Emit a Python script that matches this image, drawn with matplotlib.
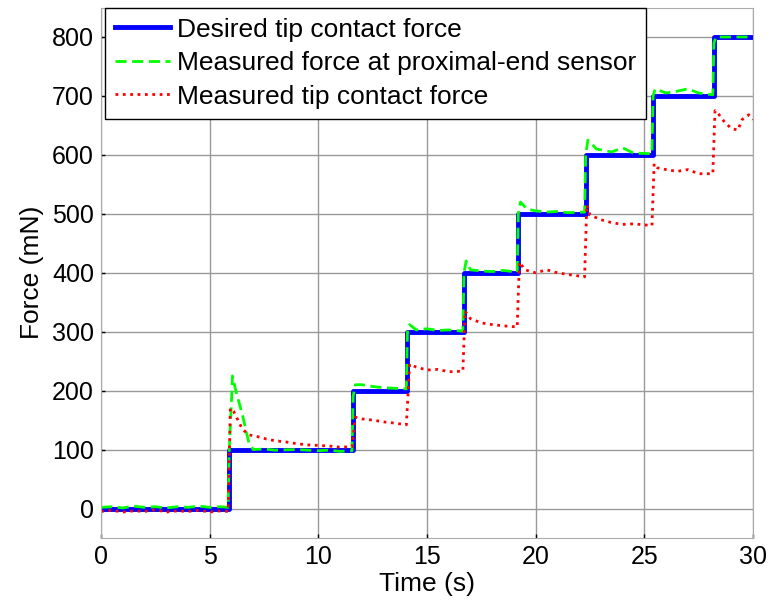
import matplotlib.pyplot as plt

plt.rcParams['font.family'] = ['Liberation Sans', 'DejaVu Sans']

# desired step profile
t_desired = [0, 5.9, 11.6, 14.1, 16.7, 19.2, 22.3, 25.4, 28.2, 30]
f_desired = [0, 100, 200, 300, 400, 500, 600, 700, 800, 800]

# measured force at proximal-end sensor
t_prox = [0, 0.5, 1, 1.5, 2, 2.5, 3, 3.5, 4, 4.5, 5, 5.5, 5.85,
          5.9, 6.0, 6.05, 6.2, 6.5, 6.8, 7.0, 7.5, 8, 9, 10, 10.5, 11, 11.55,
          11.6, 11.7, 12, 12.5, 13, 13.5, 14.05,
          14.1, 14.2, 14.5, 15, 15.5, 16, 16.65,
          16.7, 16.8, 17, 17.5, 18, 18.5, 19.15,
          19.2, 19.3, 19.6, 20, 20.5, 21, 21.5, 22.25,
          22.3, 22.4, 22.8, 23.5, 24, 24.5, 25.35,
          25.4, 25.5, 26, 26.5, 27, 27.5, 28.15,
          28.2, 28.3, 29, 30]
f_prox = [2, 3, 1, 4, 2, 3, 1, 3, 2, 4, 2, 3, 2,
          100, 180, 225, 200, 160, 112, 100, 101, 99, 100, 98, 99, 97, 98,
          190, 210, 210, 207, 205, 204, 203,
          300, 312, 303, 305, 302, 303, 301,
          400, 420, 405, 403, 402, 404, 401,
          500, 520, 508, 505, 503, 504, 502, 503,
          600, 625, 610, 605, 612, 603, 602,
          700, 712, 705, 708, 712, 705, 702,
          790, 800, 800, 800]

# measured tip contact force
t_tip = [0, 0.5, 1, 1.5, 2, 2.5, 3, 3.5, 4, 4.5, 5, 5.5, 5.85,
         5.95, 6.1, 6.3, 6.5, 6.8, 7.2, 7.6, 8, 8.5, 9, 9.5, 10, 10.5, 11, 11.55,
         11.7, 12, 12.5, 13, 13.5, 14.05,
         14.2, 14.5, 15, 15.5, 16, 16.65,
         16.75, 17, 17.5, 18, 18.5, 19.15,
         19.25, 19.5, 20, 20.5, 21, 21.5, 22.25,
         22.35, 22.5, 23, 23.5, 24, 24.5, 25.35,
         25.45, 25.6, 26, 26.5, 27, 27.5, 28.15,
         28.25, 28.4, 28.7, 29, 29.3, 29.5, 29.8, 30]
f_tip = [-5, -3, -6, -4, -5, -2, -6, -4, -5, -3, -6, -4, -5,
         170, 165, 150, 135, 125, 122, 118, 115, 113, 110, 108, 107, 106, 104, 105,
         155, 152, 150, 147, 145, 142,
         245, 240, 235, 236, 232, 233,
         335, 322, 315, 312, 310, 308,
         418, 405, 400, 405, 400, 397, 393,
         515, 498, 490, 485, 482, 483, 480,
         585, 578, 575, 572, 575, 568, 568,
         675, 670, 655, 645, 642, 660, 668, 660]

fig, ax = plt.subplots(figsize=(7.71, 6.07), dpi=100)
fig.subplots_adjust(left=0.131, right=0.9767, bottom=0.1137, top=0.9876)

ax.plot(t_desired, f_desired, drawstyle='steps-post', color='#0000ff', lw=3.5,
        label='Desired tip contact force')
ax.plot(t_prox, f_prox, color='#00ff00', lw=2, linestyle='--', dashes=(4, 2),
        label='Measured force at proximal-end sensor')
ax.plot(t_tip, f_tip, color='#ff0000', lw=2, linestyle=':',
        label='Measured tip contact force')

ax.set_xlim(0, 30)
ax.set_ylim(-50, 850)
ax.set_xticks(range(0, 31, 5))
ax.set_yticks(range(0, 801, 100))
ax.grid(True, color='#999999', lw=1)
ax.tick_params(direction='in', length=3, labelsize=18, width=1, pad=5)
for s in ax.spines.values():
    s.set_color('#aaaaaa')
ax.set_xlabel('Time (s)', fontsize=19, labelpad=2)
ax.set_ylabel('Force (mN)', fontsize=19, labelpad=6)

leg = ax.legend(loc='upper left', bbox_to_anchor=(0.006, 1.0), fontsize=19,
                fancybox=False, framealpha=1, edgecolor='black',
                handlelength=2.1, borderaxespad=0, labelspacing=0.36,
                handletextpad=0.25, borderpad=0.38)
leg.get_frame().set_linewidth(1)

fig.savefig('out.png', dpi=100)
